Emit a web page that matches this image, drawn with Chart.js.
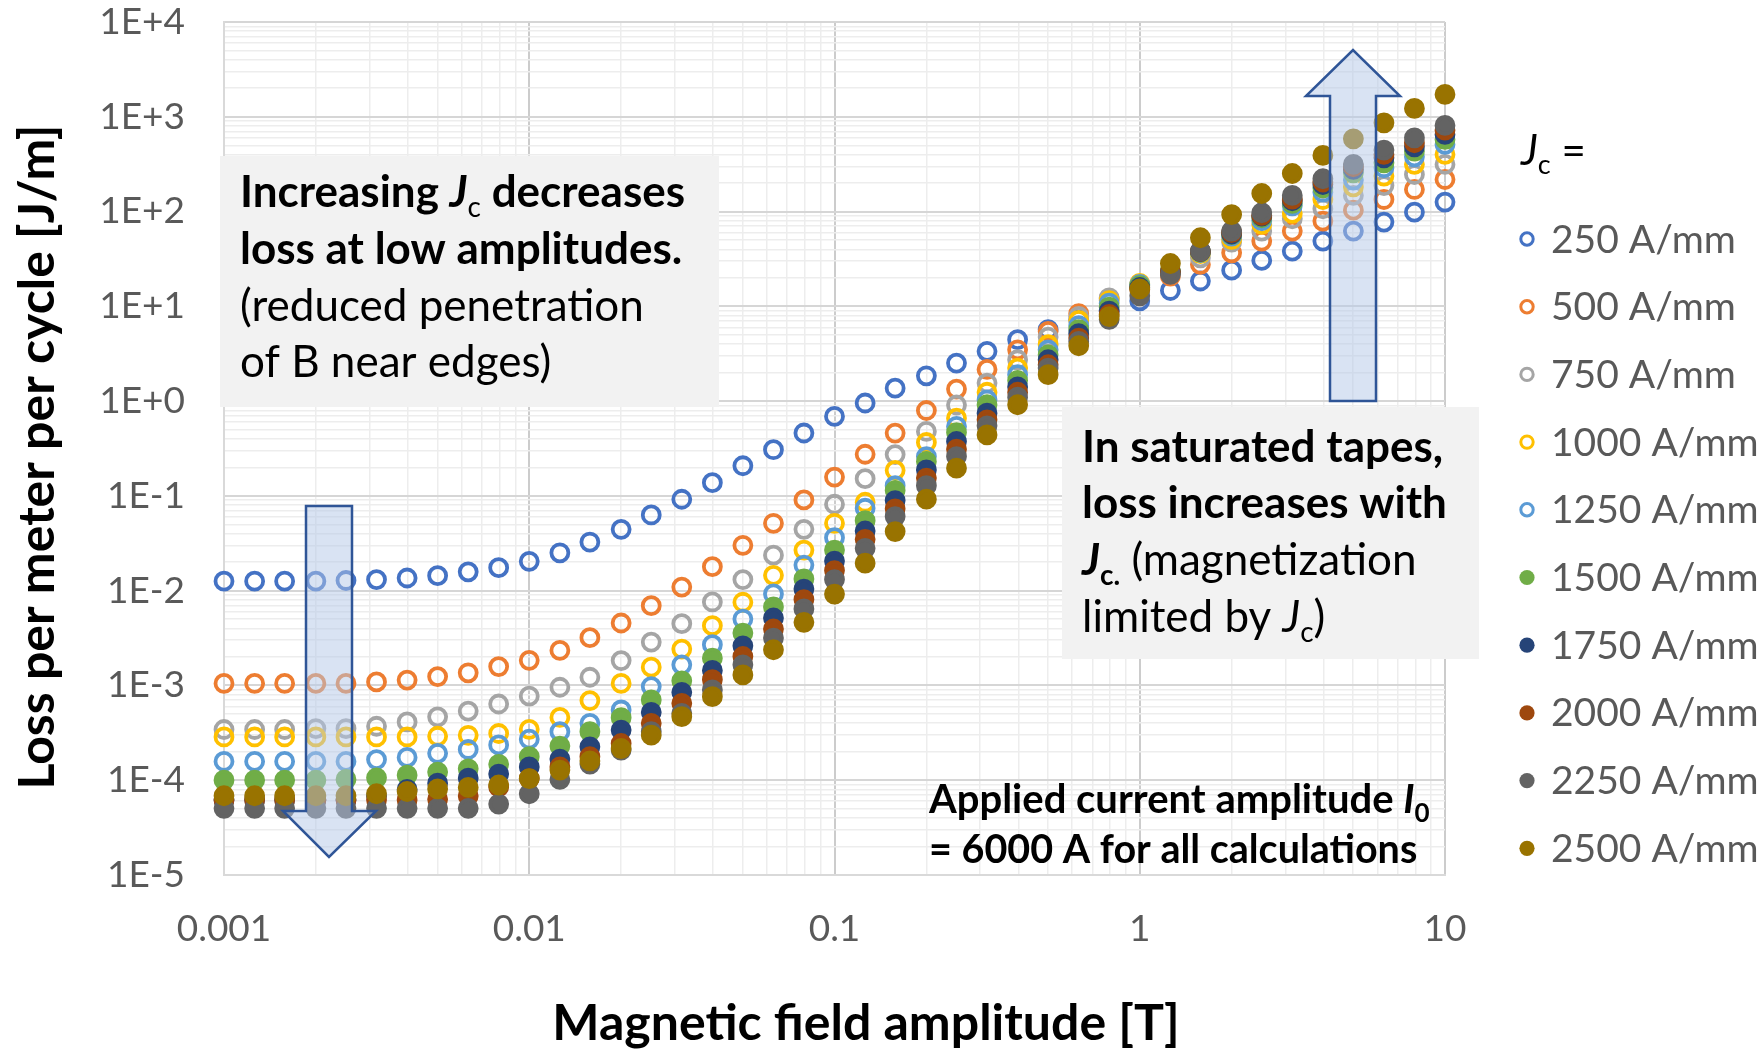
<!DOCTYPE html>
<html>
<head>
<meta charset="utf-8">
<title>AC loss vs magnetic field amplitude</title>
<script src="https://cdn.jsdelivr.net/npm/chart.js@4.4.1/dist/chart.umd.min.js"></script>
<style>
  html, body { margin: 0; padding: 0; background: #ffffff; }
  #wrap { position: relative; width: 1760px; height: 1049px; }
</style>
</head>
<body>
<div id="wrap"><canvas id="lossChart" width="1760" height="1049"></canvas></div>
<script>
// ---------------- data ----------------
// Applied field amplitude [T], ten points per decade
const fieldT = [
  0.001, 0.00126, 0.00158, 0.002, 0.00251, 0.00316, 0.00398, 0.00501, 0.00631, 0.00794,
  0.01, 0.0126, 0.0158, 0.02, 0.0251, 0.0316, 0.0398, 0.0501, 0.0631, 0.0794,
  0.1, 0.126, 0.158, 0.2, 0.251, 0.316, 0.398, 0.501, 0.631, 0.794,
  1, 1.26, 1.58, 2, 2.51, 3.16, 3.98, 5.01, 6.31, 7.94, 10
];

// Critical current density of each run
const jcLabels = ['250 A/mm', '500 A/mm', '750 A/mm', '1000 A/mm', '1250 A/mm',
                  '1500 A/mm', '1750 A/mm', '2000 A/mm', '2250 A/mm', '2500 A/mm'];

// Loss per meter per cycle [J/m]
const loss250 = [
  0.0126, 0.0126, 0.0126, 0.0126, 0.0128, 0.0131, 0.0136, 0.0144, 0.0158, 0.0175,
  0.0204, 0.0251, 0.0326, 0.0444, 0.0629, 0.0922, 0.138, 0.208, 0.307, 0.461,
  0.69, 0.955, 1.37, 1.85, 2.52, 3.35, 4.45, 5.68, 7.2, 9.1,
  11.4, 14.7, 18.5, 24.1, 30.5, 38.2, 48.8, 62.2, 77.4, 98.6, 126
];
const loss500 = [
  0.00105, 0.00105, 0.00105, 0.00105, 0.00105, 0.00109, 0.00114, 0.00124, 0.00136, 0.00158,
  0.00184, 0.00234, 0.00319, 0.00456, 0.00695, 0.0109, 0.0179, 0.0301, 0.0514, 0.0907,
  0.158, 0.275, 0.46, 0.796, 1.34, 2.16, 3.48, 5.45, 8.37, 12.0,
  16.0, 20.8, 27.7, 36.7, 48.8, 62.2, 79.3, 103.5, 134, 171, 218
];
const loss750 = [
  3.43e-4, 3.43e-4, 3.43e-4, 3.51e-4, 3.51e-4, 3.71e-4, 4.12e-4, 4.66e-4, 5.36e-4, 6.37e-4,
  7.7e-4, 9.57e-4, 1.22e-3, 1.83e-3, 2.87e-3, 4.49e-3, 7.6e-3, 0.0131, 0.0237, 0.0444,
  0.0816, 0.152, 0.273, 0.479, 0.91, 1.55, 2.73, 4.74, 7.83, 12.3,
  16.8, 22.5, 32.5, 47.5, 62.2, 84, 107, 148, 188, 246, 314
];
const loss1000 = [
  2.86e-4, 2.86e-4, 2.86e-4, 2.86e-4, 2.86e-4, 2.86e-4, 2.86e-4, 2.91e-4, 2.98e-4, 3.11e-4,
  3.44e-4, 4.6e-4, 6.92e-4, 1.05e-3, 1.56e-3, 2.42e-3, 4.27e-3, 7.55e-3, 0.0145, 0.0268,
  0.0514, 0.0857, 0.186, 0.366, 0.66, 1.24, 2.23, 3.94, 7.11, 11.5,
  17.5, 23.5, 36, 50.8, 73.1, 95.5, 134, 182, 237, 314, 401
];
const loss1250 = [
  1.58e-4, 1.58e-4, 1.58e-4, 1.58e-4, 1.58e-4, 1.65e-4, 1.74e-4, 1.92e-4, 2.11e-4, 2.36e-4,
  2.71e-4, 3.25e-4, 3.98e-4, 5.51e-4, 9.73e-4, 1.65e-3, 2.69e-3, 5.02e-3, 9.24e-3, 0.0186,
  0.0362, 0.0741, 0.128, 0.26, 0.54, 1.03, 1.9, 3.48, 6.25, 10.8,
  17.0, 23.5, 37, 55, 80, 115, 160, 215, 290, 378, 511
];
const loss1500 = [
  1.0e-4, 1.0e-4, 1.0e-4, 1.0e-4, 1.02e-4, 1.06e-4, 1.13e-4, 1.22e-4, 1.32e-4, 1.47e-4,
  1.77e-4, 2.29e-4, 3.25e-4, 4.57e-4, 7.03e-4, 1.12e-3, 1.94e-3, 3.57e-3, 6.73e-3, 0.0133,
  0.0268, 0.0548, 0.114, 0.231, 0.466, 0.915, 1.65, 3.08, 5.68, 9.8,
  16.5, 23.5, 37.5, 57, 86, 122, 178, 256, 327, 434, 577
];
const loss1750 = [
  6.2e-5, 6.2e-5, 6.2e-5, 6.2e-5, 6.2e-5, 6.8e-5, 8.0e-5, 9.3e-5, 1.05e-4, 1.16e-4,
  1.38e-4, 1.67e-4, 2.25e-4, 3.38e-4, 5.2e-4, 8.47e-4, 1.44e-3, 2.62e-3, 5.15e-3, 0.0104,
  0.0205, 0.0426, 0.0893, 0.188, 0.375, 0.746, 1.41, 2.73, 5.14, 8.9,
  15.8, 23, 38, 58, 89.5, 130, 193, 278, 369, 482, 652
];
const loss2000 = [
  6.2e-5, 6.2e-5, 6.2e-5, 6.2e-5, 6.2e-5, 6.2e-5, 6.2e-5, 6.3e-5, 6.8e-5, 8.5e-5,
  1.04e-4, 1.38e-4, 1.77e-4, 2.44e-4, 3.98e-4, 6.48e-4, 1.15e-3, 2.02e-3, 3.94e-3, 8.05e-3,
  0.0163, 0.0348, 0.073, 0.154, 0.311, 0.635, 1.24, 2.42, 4.63, 8.2,
  15.0, 23, 38, 60, 91, 135, 205, 297, 401, 532, 723
];
const loss2250 = [
  5.05e-5, 5.05e-5, 5.05e-5, 5.05e-5, 5.05e-5, 5.05e-5, 5.05e-5, 5.05e-5, 5.05e-5, 5.6e-5,
  7.2e-5, 1.02e-4, 1.48e-4, 2.08e-4, 3.25e-4, 5.08e-4, 8.97e-4, 1.65e-3, 3.16e-3, 6.41e-3,
  0.0131, 0.028, 0.0605, 0.128, 0.26, 0.549, 1.10, 2.23, 4.26, 7.3,
  12.9, 21.7, 38.3, 62.2, 97.1, 148, 222, 314, 445, 600, 811
];
const loss2500 = [
  6.86e-5, 6.86e-5, 6.86e-5, 6.86e-5, 6.86e-5, 7.2e-5, 7.6e-5, 8.1e-5, 8.4e-5, 8.9e-5,
  1.04e-4, 1.28e-4, 1.6e-4, 2.16e-4, 2.99e-4, 4.68e-4, 7.62e-4, 1.29e-3, 2.38e-3, 4.63e-3,
  9.2e-3, 0.0195, 0.042, 0.0923, 0.196, 0.44, 0.915, 1.90, 3.84, 7.8,
  15.3, 28.3, 52.9, 93, 155, 252, 391, 586, 864, 1225, 1722
];

// Decade tick labels
const xTickLabels = ['0.001', '0.01', '0.1', '1', '10'];
const yTickLabels = ['1E-5', '1E-4', '1E-3', '1E-2', '1E-1', '1E+0', '1E+1', '1E+2', '1E+3', '1E+4'];

// ---------------- styling ----------------
const FONT = 'Lato, "Open Sans", "Noto Sans", sans-serif';
const seriesColors = ['#4472C4', '#ED7D31', '#A5A5A5', '#FFC000', '#5B9BD5',
                      '#70AD47', '#264478', '#9E480E', '#636363', '#997300'];
const seriesFilled = [false, false, false, false, false, true, true, true, true, true];
const lossSeries = [loss250, loss500, loss750, loss1000, loss1250,
                    loss1500, loss1750, loss2000, loss2250, loss2500];

function isDecade(v) {
  const l = Math.log10(v);
  return Math.abs(l - Math.round(l)) < 1e-9;
}
// 1..9 x 10^e for every decade between the limits
function logTicks(e0, e1) {
  const out = [];
  for (let e = e0; e <= e1; e++) {
    const top = e === e1 ? 1 : 9;
    for (let m = 1; m <= top; m++) {
      out.push({ value: parseFloat((m * Math.pow(10, e)).toPrecision(12)) });
    }
  }
  return out;
}
function decadeLabel(v, e0, labels) {
  if (!isDecade(v)) return '';
  return labels[Math.round(Math.log10(v)) - e0];
}

const datasets = lossSeries.map((vals, i) => ({
  label: jcLabels[i],
  data: fieldT.map((x, k) => ({ x: x, y: vals[k] })),
  showLine: false,
  pointStyle: 'circle',
  pointRadius: 8.5,
  pointHoverRadius: 8.5,
  pointBorderWidth: 3.8,
  borderColor: seriesColors[i],
  backgroundColor: seriesFilled[i] ? seriesColors[i] : 'rgba(0,0,0,0)',
  order: lossSeries.length - i,
  clip: false
}));

// ---------------- rich text helper ----------------
function drawRich(ctx, runs, x, y, size, color) {
  let cx = x;
  ctx.fillStyle = color;
  ctx.textAlign = 'left';
  ctx.textBaseline = 'alphabetic';
  for (const r of runs) {
    const s = r.sub ? Math.round(size * 0.64) : size;
    ctx.font = (r.i ? 'italic ' : '') + (r.b ? 'bold ' : '') + s + 'px ' + FONT;
    ctx.fillText(r.t, cx, y + (r.sub ? size * 0.22 : 0));
    cx += ctx.measureText(r.t).width;
  }
}

function drawArrow(ctx, pts) {
  ctx.beginPath();
  ctx.moveTo(pts[0][0], pts[0][1]);
  for (let i = 1; i < pts.length; i++) ctx.lineTo(pts[i][0], pts[i][1]);
  ctx.closePath();
  ctx.fillStyle = 'rgba(180,199,231,0.5)';
  ctx.fill();
  ctx.lineWidth = 2.5;
  ctx.lineJoin = 'miter';
  ctx.strokeStyle = '#2F5597';
  ctx.stroke();
}

const decorations = {
  id: 'decorations',
  beforeDatasetsDraw(chart) {
    const ctx = chart.ctx;
    ctx.save();
    ctx.fillStyle = '#F2F2F2';
    ctx.fillRect(220, 156, 499, 251);
    ctx.fillRect(1062, 407, 417, 252);
    ctx.restore();
  },
  afterDatasetsDraw(chart) {
    const ctx = chart.ctx;
    ctx.save();
    // downward arrow (low amplitudes)
    drawArrow(ctx, [[306, 506], [352, 506], [352, 811], [376, 811], [329, 857],
                    [283, 811], [306, 811]]);
    // upward arrow (saturated tapes)
    drawArrow(ctx, [[1330, 401], [1376, 401], [1376, 96], [1400, 96], [1353, 50],
                    [1306, 96], [1330, 96]]);
    ctx.restore();
  },
  afterDraw(chart) {
    const ctx = chart.ctx;
    ctx.save();
    const B = 44;
    // left note
    drawRich(ctx, [{ t: 'Increasing ', b: 1 }, { t: 'J', b: 1, i: 1 }, { t: 'c', sub: 1 },
                   { t: ' decreases', b: 1 }], 240, 207, B, '#000');
    drawRich(ctx, [{ t: 'loss at low amplitudes.', b: 1 }], 240, 264, B, '#000');
    drawRich(ctx, [{ t: '(reduced penetration' }], 240, 321, B, '#000');
    drawRich(ctx, [{ t: 'of B near edges)' }], 240, 377, B, '#000');
    // right note
    drawRich(ctx, [{ t: 'In saturated tapes,', b: 1 }], 1082, 462, B, '#000');
    drawRich(ctx, [{ t: 'loss increases with', b: 1 }], 1082, 518, B, '#000');
    drawRich(ctx, [{ t: 'J', b: 1, i: 1 }, { t: 'c.', b: 1, sub: 1 }, { t: ' (magnetization' }],
             1082, 575, B, '#000');
    drawRich(ctx, [{ t: 'limited by ' }, { t: 'J', i: 1 }, { t: 'c', sub: 1 }, { t: ')' }],
             1082, 632, B, '#000');
    // current note
    drawRich(ctx, [{ t: 'Applied current amplitude ', b: 1 }, { t: 'I', b: 1, i: 1 },
                   { t: '0', b: 1, sub: 1 }], 929, 813, 40, '#000');
    drawRich(ctx, [{ t: '= 6000 A for all calculations', b: 1 }], 929, 863, 39.5, '#000');

    // axis titles
    ctx.fillStyle = '#000';
    ctx.font = 'bold 50px ' + FONT;
    ctx.textAlign = 'center';
    ctx.textBaseline = 'alphabetic';
    ctx.fillText('Magnetic field amplitude [T]', 866, 1040);
    ctx.save();
    ctx.translate(54, 457);
    ctx.rotate(-Math.PI / 2);
    ctx.fillText('Loss per meter per cycle [J/m]', 0, 0);
    ctx.restore();

    // legend
    drawRich(ctx, [{ t: 'J', i: 1 }, { t: 'c', sub: 1 }, { t: ' =' }], 1521, 165, 42, '#000');
    chart.data.datasets.forEach((ds, i) => {
      const cy = 239 + 67.7 * i;
      ctx.beginPath();
      if (seriesFilled[i]) {
        ctx.arc(1527, cy, 7.6, 0, Math.PI * 2);
        ctx.fillStyle = ds.borderColor;
        ctx.fill();
      } else {
        ctx.arc(1527, cy, 6.2, 0, Math.PI * 2);
        ctx.lineWidth = 3;
        ctx.strokeStyle = ds.borderColor;
        ctx.stroke();
      }
      ctx.fillStyle = '#595959';
      ctx.font = '39px ' + FONT;
      ctx.textAlign = 'left';
      ctx.textBaseline = 'middle';
      ctx.fillText(ds.label, 1551, cy + 1);
    });
    ctx.restore();
  }
};

const majorX = '#CCCCCC', majorY = '#D6D6D6', minorGrid = '#EDEDED';

const chart = new Chart(document.getElementById('lossChart'), {
  type: 'scatter',
  data: { datasets: datasets },
  options: {
    responsive: false,
    animation: false,
    devicePixelRatio: 1,
    layout: { padding: { left: 0, right: 315, top: 22, bottom: 0 } },
    plugins: { legend: { display: false }, tooltip: { enabled: false } },
    scales: {
      x: {
        type: 'logarithmic',
        min: 0.001,
        max: 10,
        afterBuildTicks: (s) => { s.ticks = logTicks(-3, 1); },
        afterFit: (s) => { s.height = 174; },
        ticks: {
          autoSkip: false, maxRotation: 0, minRotation: 0, padding: 32,
          color: '#595959', font: { family: FONT, size: 37 },
          callback: (v) => decadeLabel(v, -3, xTickLabels)
        },
        grid: {
          drawTicks: false,
          color: (c) => (c.tick && isDecade(c.tick.value)) ? majorX : minorGrid,
          lineWidth: (c) => (c.tick && isDecade(c.tick.value)) ? 2 : 1.5
        },
        border: { display: true, color: '#D9D9D9', width: 2 }
      },
      y: {
        type: 'logarithmic',
        min: 1e-5,
        max: 1e4,
        afterBuildTicks: (s) => { s.ticks = logTicks(-5, 4); },
        afterFit: (s) => {
          s.width = 224;
          // keep the plot top on the layout padding, not on tick padding
          s.paddingTop = 0;
          s.paddingBottom = 0;
        },
        ticks: {
          autoSkip: false, padding: 39,
          color: '#595959', font: { family: FONT, size: 37 },
          callback: (v) => decadeLabel(v, -5, yTickLabels)
        },
        grid: {
          drawTicks: false,
          color: (c) => (c.tick && isDecade(c.tick.value)) ? majorY : minorGrid,
          lineWidth: (c) => (c.tick && isDecade(c.tick.value)) ? 2 : 1.5
        },
        border: { display: true, color: '#D9D9D9', width: 2 }
      }
    }
  },
  plugins: [decorations]
});

if (document.fonts && document.fonts.ready) {
  document.fonts.ready.then(() => chart.draw());
}
</script>
</body>
</html>
